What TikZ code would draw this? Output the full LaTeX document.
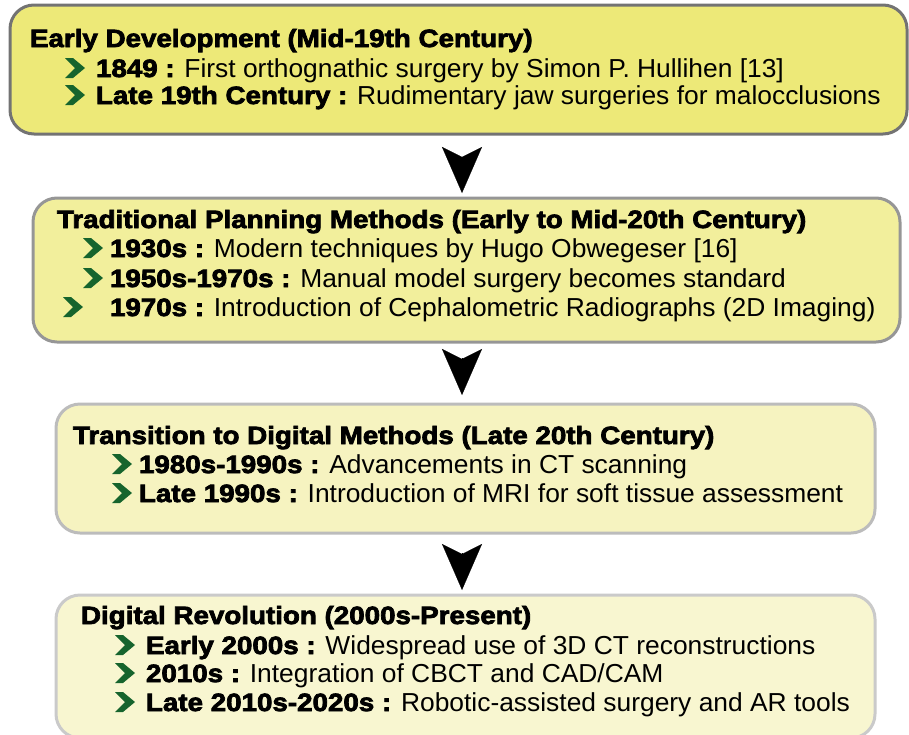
\documentclass[tikz,border=0pt]{standalone}
\usepackage{fontspec}
\usetikzlibrary{arrows.meta}
\newfontfamily\headfont{Liberation Sans Bold}[FakeStretch=1.11,FakeBold=3]
\newfontfamily\bodyfont{Liberation Sans}[FakeStretch=1.015]
\newcommand\stagelabel[1]{{\headfont\fontsize{25}{30}\selectfont #1}}
\definecolor{fillA}{RGB}{237,233,120}
\definecolor{fillB}{RGB}{242,239,156}
\definecolor{fillC}{RGB}{246,243,192}
\definecolor{fillD}{RGB}{248,246,208}
\definecolor{edgeA}{RGB}{115,115,115}
\definecolor{edgeB}{RGB}{150,150,150}
\definecolor{edgeC}{RGB}{188,188,188}
\definecolor{edgeD}{RGB}{202,202,202}
\definecolor{chevgreen}{RGB}{22,100,45}
\begin{document}
\begin{tikzpicture}[x=1pt,y=-1pt,
  stage/.style={rounded corners=24pt, line width=3pt, inner sep=0pt, outer sep=0pt},
  txt/.style={anchor=base west, inner sep=0pt, outer sep=0pt,
              font=\bodyfont\fontsize{26}{30}\selectfont},
  head/.style={font=\headfont\fontsize{25}{30}\selectfont},
  flowhead/.style={line width=0.2pt, -{Stealth[length=46pt,width=40pt,inset=10pt]}},
  chevron/.pic={\fill[chevgreen] (0,0) -- (8,0) -- (20,10) -- (8,20) -- (0,20) -- (10,10) -- cycle;}
]
\useasboundingbox (0,0) rectangle (909,734);

% stage boxes
\node[stage, draw=edgeA, fill=fillA, minimum width=897pt, minimum height=129pt] (b1) at (458.5,69.5) {};
\node[stage, draw=edgeB, fill=fillB, minimum width=867pt, minimum height=144pt] (b2) at (466.5,270) {};
\node[stage, draw=edgeC, fill=fillC, minimum width=819pt, minimum height=129pt] (b3) at (465.5,468.5) {};
\node[stage, draw=edgeD, fill=fillD, minimum width=819pt, minimum height=143pt] (b4) at (465.5,666.5) {};

% arrowheads between the stages (each path starts at the notch of its head)
\coordinate (a1s) at (462,157); \coordinate (a1e) at (462,193);
\coordinate (a2s) at (462,358); \coordinate (a2e) at (462,395);
\coordinate (a3s) at (462,553); \coordinate (a3e) at (462,590);
\draw[flowhead] (a1s) -- (a1e);
\draw[flowhead] (a2s) -- (a2e);
\draw[flowhead] (a3s) -- (a3e);

% stage 1
\node[txt, head] (t1) at (30,47) {Early Development (Mid-19th Century)};
\pic at (65,58) {chevron};
\node[txt] (l11) at (96,77) {\stagelabel{1849 :} First orthognathic surgery by Simon P. Hullihen [13]};
\pic at (65,85) {chevron};
\node[txt] (l12) at (96,104) {\stagelabel{Late 19th Century :} Rudimentary jaw surgeries for malocclusions};

% stage 2
\node[txt, head] (t2) at (57,228) {Traditional Planning Methods (Early to Mid-20th Century)};
\pic at (83,238) {chevron};
\node[txt] (l21) at (110,257) {\stagelabel{1930s :} Modern techniques by Hugo Obwegeser [16]};
\pic at (83,268) {chevron};
\node[txt] (l22) at (110,287) {\stagelabel{1950s-1970s :} Manual model surgery becomes standard};
\pic at (63,297) {chevron};
\node[txt] (l23) at (110,316) {\stagelabel{1970s :} Introduction of Cephalometric Radiographs (2D Imaging)};

% stage 3
\node[txt, head] (t3) at (73,444) {Transition to Digital Methods (Late 20th Century)};
\pic at (112,454) {chevron};
\node[txt] (l31) at (139,473) {\stagelabel{1980s-1990s :} Advancements in CT scanning};
\pic at (112,483) {chevron};
\node[txt] (l32) at (139,502) {\stagelabel{Late 1990s :} Introduction of MRI for soft tissue assessment};

% stage 4
\node[txt, head] (t4) at (81,624) {Digital Revolution (2000s-Present)};
\pic at (115,635) {chevron};
\node[txt] (l41) at (146,654) {\stagelabel{Early 2000s :} Widespread use of 3D CT reconstructions};
\pic at (115,663) {chevron};
\node[txt] (l42) at (146,682) {\stagelabel{2010s :} Integration of CBCT and CAD/CAM};
\pic at (115,692) {chevron};
\node[txt] (l43) at (146,711) {\stagelabel{Late 2010s-2020s :} Robotic-assisted surgery and AR tools};
\end{tikzpicture}
\end{document}
